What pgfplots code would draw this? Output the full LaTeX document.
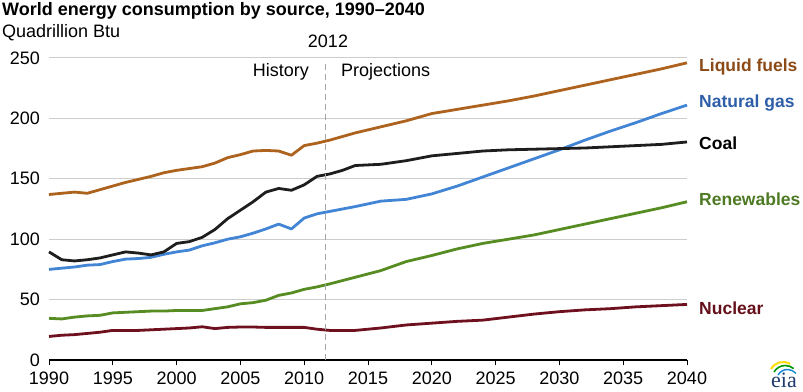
\documentclass[border=0pt]{standalone}
\usepackage{pgfplots}
\pgfplotsset{compat=1.18}
\usepackage{fontspec}
\setmainfont{Liberation Sans}
\newfontfamily\serifeia{Liberation Serif}
\definecolor{liqL}{RGB}{173,98,30}
\definecolor{liqT}{RGB}{140,75,22}
\definecolor{gasL}{RGB}{66,133,212}
\definecolor{gasT}{RGB}{46,94,168}
\definecolor{coalL}{RGB}{30,30,30}
\definecolor{renL}{RGB}{86,140,34}
\definecolor{renT}{RGB}{78,122,35}
\definecolor{nucL}{RGB}{110,16,30}
\definecolor{nucT}{RGB}{100,15,25}
\definecolor{gridc}{RGB}{205,205,205}
\definecolor{eiablue}{RGB}{30,60,110}
\begin{document}
\begin{tikzpicture}[x=1pt,y=1pt]
\useasboundingbox (0,0) rectangle (803,391);
\begin{axis}[
  at={(49pt,31pt)}, anchor=south west, scale only axis,
  width=638pt, height=302pt,
  xmin=1990, xmax=2040, ymin=0, ymax=250,
  xtick={1990,1995,...,2040}, ytick={0,50,...,250},
  axis x line*=bottom, axis y line*=left,
  x axis line style={line width=1.5pt, black, -},
  y axis line style={draw=none},
  major y tick style={draw=none},
  major x tick style={line width=1pt, black},
  tick align=outside, major tick length=5pt,
  ymajorgrids, major grid style={gridc, line width=1pt},
  /pgf/number format/assume math mode=true,
  /pgf/number format/1000 sep={},
  tick label style={font=\fontsize{18}{20}\selectfont},
  yticklabel style={anchor=east, inner sep=0pt, xshift=-4pt},
  xticklabel style={anchor=north, inner sep=0pt, yshift=-7pt},
  clip=false,
  every axis plot/.append style={line width=2.8pt, line join=round},
]
\addplot[nucL] coordinates {(1990,19.5)(1991,20.5)(1992,21)(1993,22)(1994,23)(1995,24.5)(1996,24.5)(1997,24.5)(1998,25)(1999,25.5)(2000,26)(2001,26.5)(2002,27.5)(2003,26)(2004,27)(2005,27.3)(2006,27.3)(2007,27)(2008,27)(2009,27)(2010,27)(2011,25.5)(2012,24.5)(2014,24.5)(2016,26.5)(2018,29)(2020,30.5)(2022,32)(2024,33)(2026,35.5)(2028,38)(2030,40)(2032,41.5)(2034,42.5)(2036,44)(2038,45)(2040,46)};
\addplot[renL] coordinates {(1990,34.5)(1991,34)(1992,35.5)(1993,36.5)(1994,37)(1995,39)(1996,39.5)(1997,40)(1998,40.5)(1999,40.5)(2000,41)(2001,41)(2002,41)(2003,42.5)(2004,44)(2005,46.5)(2006,47.5)(2007,49.5)(2008,53.5)(2009,55.5)(2010,58.5)(2011,60.5)(2012,63)(2014,68.5)(2016,74)(2018,81.5)(2020,86.5)(2022,92)(2024,96.5)(2026,100)(2028,103.5)(2030,108)(2032,112.5)(2034,117)(2036,121.5)(2038,126)(2040,131)};
\addplot[gasL] coordinates {(1990,75)(1991,76)(1992,77)(1993,78.5)(1994,79)(1995,81.5)(1996,83.5)(1997,84)(1998,85)(1999,87.5)(2000,89.5)(2001,91)(2002,94.5)(2003,97)(2004,100)(2005,102)(2006,105)(2007,108.5)(2008,112.5)(2009,108.5)(2010,117.5)(2011,121)(2012,123)(2014,127)(2016,131.5)(2018,133)(2020,137.5)(2022,144)(2024,151.5)(2026,159)(2028,166.5)(2030,174)(2032,182)(2034,189.5)(2036,196.5)(2038,204)(2040,211)};
\addplot[coalL] coordinates {(1990,89.5)(1991,83)(1992,82)(1993,83)(1994,84.5)(1995,87)(1996,89.5)(1997,88.5)(1998,87)(1999,89.5)(2000,96.5)(2001,98)(2002,101.5)(2003,108)(2004,117)(2005,124)(2006,131)(2007,139)(2008,142)(2009,140.5)(2010,145)(2011,152)(2012,154)(2013,157)(2014,161)(2016,162)(2018,165)(2020,169)(2022,171)(2024,173)(2026,174)(2028,174.5)(2030,175)(2032,175.5)(2034,176.5)(2036,177.5)(2038,178.5)(2040,180.5)};
\addplot[liqL] coordinates {(1990,137)(1991,138)(1992,139)(1993,138)(1994,141)(1995,144)(1996,147)(1997,149.5)(1998,152)(1999,155)(2000,157)(2001,158.5)(2002,160)(2003,163)(2004,167.5)(2005,170)(2006,173)(2007,173.5)(2008,173)(2009,169.5)(2010,177.5)(2011,179.5)(2012,182)(2014,188)(2016,193)(2018,198)(2020,204)(2022,207.5)(2024,211)(2026,214.5)(2028,218.5)(2030,223)(2032,227.5)(2034,232)(2036,236.5)(2038,241)(2040,246)};
\addplot[gray!70, line width=1.2pt, dash pattern=on 6pt off 4pt] coordinates {(2011.7,0)(2011.7,248)};
\end{axis}
\node[anchor=west, font=\fontsize{18}{20}\selectfont\bfseries, inner sep=0pt] at (2,380) {World energy consumption by source, 1990--2040};
\node[anchor=west, font=\fontsize{18}{20}\selectfont, inner sep=0pt] at (2,358) {Quadrillion Btu};
\node[font=\fontsize{18}{20}\selectfont, inner sep=0pt] at (328,350) {2012};
\node[anchor=east, font=\fontsize{18}{20}\selectfont, inner sep=0pt] at (309,319) {History};
\node[anchor=west, font=\fontsize{18}{20}\selectfont, inner sep=0pt] at (341,319) {Projections};
\begin{scope}[font=\fontsize{17.5}{20}\selectfont\bfseries]
\node[anchor=west, inner sep=0pt, text=liqT] at (699,324) {Liquid fuels};
\node[anchor=west, inner sep=0pt, text=gasT] at (699,288) {Natural gas};
\node[anchor=west, inner sep=0pt, text=black] at (699,248) {Coal};
\node[anchor=west, inner sep=0pt, text=renT] at (699,192) {Renewables};
\node[anchor=west, inner sep=0pt, text=nucT] at (699,83) {Nuclear};
\end{scope}
\node[inner sep=0pt, text=eiablue, font=\serifeia\fontsize{22}{22}\selectfont] at (784,11) {eia};
\draw[line width=2pt, yellow!80!orange] (771,22) arc (150:60:14);
\draw[line width=1.6pt, green!60!black] (774,19) arc (150:50:13);
\draw[line width=1.4pt, cyan!70!blue] (778,16) arc (150:40:11);
\end{tikzpicture}
\end{document}
